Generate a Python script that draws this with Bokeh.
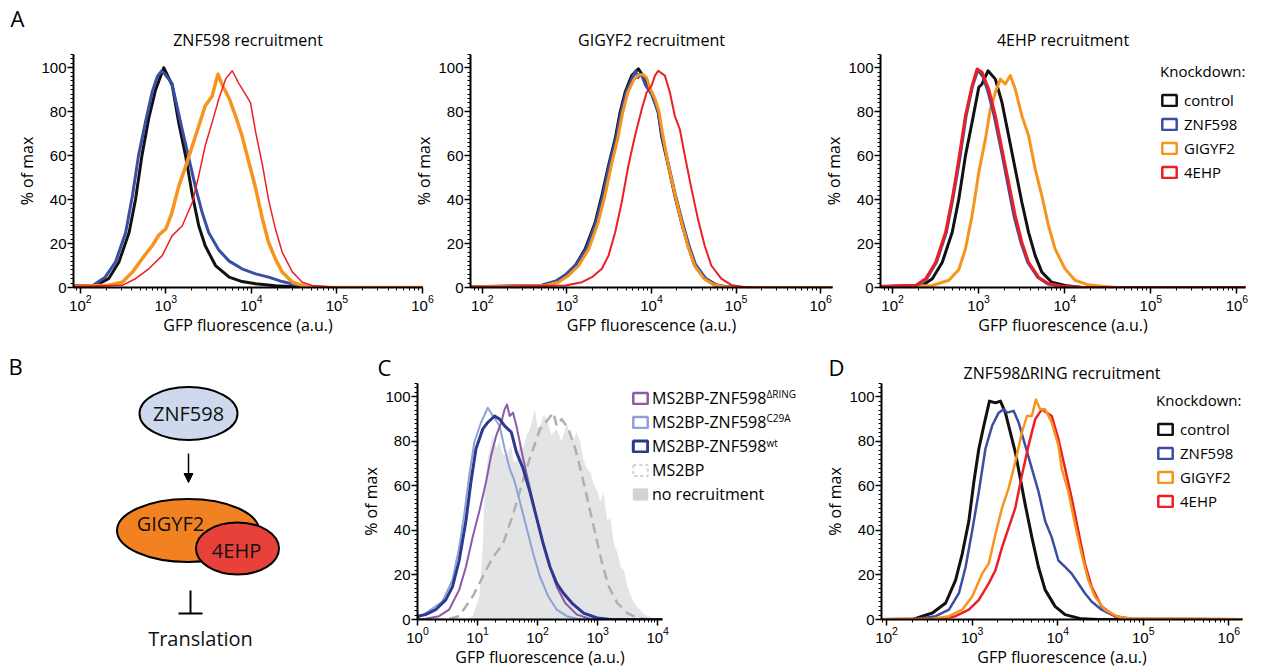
import math
import numpy as np
from bokeh.plotting import figure
from bokeh.models import Range1d, FixedTicker, Legend, LegendItem, Arrow, NormalHead, Title
from bokeh.layouts import row, column
from bokeh.embed import file_html
from bokeh.resources import INLINE
from bokeh.core.properties import value

# ---------------- data (x as log10 of GFP fluorescence, y as % of max) ----------------
KNOCKDOWNS = ["control", "ZNF598", "GIGYF2", "4EHP"]

# A1: ZNF598 recruitment
A1_CTRL_LOGX = [1.5, 2.18, 2.33, 2.45, 2.57, 2.645, 2.72, 2.80, 2.88, 2.975, 3.074, 3.15, 3.23, 3.31, 3.385, 3.46, 3.58, 3.74, 3.89, 4.05, 4.28, 4.5, 4.8, 6.5]
A1_CTRL_PCT = [0, 1, 4, 11.5, 25, 40, 60, 77, 90, 100, 92, 75, 60, 42, 28, 19, 10, 4.7, 2.7, 1.7, 0.8, 0.3, 0, 0]
A1_ZNF_LOGX = [1.5, 2.15, 2.29, 2.41, 2.53, 2.61, 2.68, 2.76, 2.84, 2.90, 2.95, 2.99, 3.07, 3.19, 3.27, 3.35, 3.425, 3.50, 3.62, 3.74, 3.89, 4.05, 4.20, 4.36, 4.52, 4.67, 4.9, 6.5]
A1_ZNF_PCT = [0, 1, 4.7, 11.5, 25, 42, 60, 75, 89, 96, 98.5, 97, 93, 72, 58.5, 45, 34, 25, 17, 12, 8.5, 6.2, 4.7, 2.7, 1.2, 0.4, 0, 0]
A1_GIG_LOGX = [1.5, 2.33, 2.49, 2.61, 2.72, 2.84, 2.92, 3.0, 3.07, 3.15, 3.23, 3.31, 3.385, 3.46, 3.54, 3.58, 3.61, 3.66, 3.74, 3.815, 3.89, 3.97, 4.05, 4.13, 4.20, 4.28, 4.36, 4.48, 4.63, 4.9, 6.5]
A1_GIG_PCT = [0, 1, 2.4, 7, 13, 19, 24, 26.7, 34, 46, 55, 64.5, 73.6, 82.7, 87, 93, 97, 92, 86, 78, 69, 57, 45, 31, 20.6, 13, 7, 2.4, 0.6, 0, 0]
A1_EHP_LOGX = [1.5, 2.49, 2.645, 2.80, 2.957, 3.074, 3.19, 3.31, 3.385, 3.46, 3.54, 3.62, 3.70, 3.776, 3.85, 3.93, 3.99, 4.05, 4.13, 4.20, 4.28, 4.36, 4.48, 4.595, 4.71, 5.0, 6.5]
A1_EHP_PCT = [0, 1, 4, 8.5, 14.5, 23.6, 28, 38.8, 51, 64.5, 75, 86, 95, 98.6, 93, 88, 84, 70.6, 55.5, 40, 26.7, 16, 7, 2.4, 0.9, 0, 0]

# A2: GIGYF2 recruitment
A2_CTRL_LOGX = [1.5, 2.707, 2.864, 2.982, 3.099, 3.217, 3.335, 3.413, 3.492, 3.570, 3.629, 3.688, 3.766, 3.845, 3.923, 4.001, 4.080, 4.119, 4.198, 4.276, 4.354, 4.433, 4.511, 4.629, 4.747, 4.864, 5.1, 6.5]
A2_CTRL_PCT = [0, 0.9, 2.4, 5.5, 10, 17.6, 29.7, 41.8, 55.5, 67.6, 79.7, 88.8, 96.4, 99.5, 94.9, 88.8, 79.7, 69, 55.5, 41.8, 29.7, 19, 10, 4, 1.2, 0.3, 0, 0]
A2_ZNF_LOGX = [1.5, 2.70, 2.87, 2.99, 3.11, 3.23, 3.345, 3.425, 3.50, 3.58, 3.64, 3.70, 3.77, 3.81, 3.84, 3.86, 3.89, 3.93, 4.00, 4.08, 4.12, 4.20, 4.28, 4.36, 4.44, 4.52, 4.64, 4.76, 4.88, 5.1, 6.5]
A2_ZNF_PCT = [0, 1, 3, 6, 10.5, 17.6, 29.7, 41.8, 55.5, 67.6, 79.7, 88.8, 95, 98.5, 95.5, 97, 96, 92, 88, 79.7, 70, 56, 42.5, 30.5, 19.5, 10.5, 4.2, 1.3, 0.3, 0, 0]
A2_GIG_LOGX = [1.5, 2.75, 2.90, 3.02, 3.14, 3.26, 3.37, 3.45, 3.525, 3.60, 3.66, 3.72, 3.79, 3.85, 3.90, 3.94, 3.99, 4.04, 4.09, 4.13, 4.20, 4.28, 4.355, 4.43, 4.51, 4.62, 4.74, 4.86, 5.1, 6.5]
A2_GIG_PCT = [0, 0.9, 2.4, 5.5, 10, 17.6, 29.7, 41.8, 55.5, 67.6, 79.7, 88.8, 94.5, 96.8, 96.8, 95.5, 90, 86, 80, 70, 55.5, 41.8, 29.7, 19, 10, 4, 1.2, 0.3, 0, 0]
A2_EHP_LOGX = [1.5, 2.982, 3.178, 3.296, 3.413, 3.492, 3.570, 3.648, 3.727, 3.805, 3.884, 3.943, 4.001, 4.041, 4.080, 4.158, 4.217, 4.276, 4.335, 4.394, 4.472, 4.550, 4.629, 4.707, 4.825, 4.943, 5.060, 5.3, 6.5]
A2_EHP_PCT = [0, 0.9, 2.4, 4.7, 8.5, 14.5, 25, 38.8, 55.5, 69, 81, 88.8, 91.8, 96.4, 98.6, 96.4, 88.8, 78, 72, 60, 45, 31, 19, 10, 4, 1.2, 0.3, 0, 0]

# A3: 4EHP recruitment
A3_CTRL_LOGX = [1.5, 2.346, 2.462, 2.578, 2.693, 2.770, 2.847, 2.924, 3.002, 3.040, 3.109, 3.194, 3.271, 3.348, 3.425, 3.502, 3.580, 3.657, 3.734, 3.849, 4.003, 4.2, 6.5]
A3_CTRL_PCT = [0, 0.9, 4.0, 11.5, 25.1, 40.3, 60, 75.2, 91.1, 92.6, 98.6, 94.8, 84.2, 69.1, 53.9, 38.8, 25.1, 14.5, 7, 2.4, 0.9, 0, 0]
A3_ZNF_LOGX = [1.5, 2.28, 2.395, 2.51, 2.625, 2.70, 2.78, 2.855, 2.93, 2.99, 3.05, 3.11, 3.18, 3.26, 3.335, 3.41, 3.49, 3.57, 3.685, 3.80, 3.955, 4.2, 6.5]
A3_ZNF_PCT = [0, 0.9, 4.0, 11.5, 25.1, 40.3, 58.5, 78.2, 91.8, 98.9, 96, 89, 78.2, 63, 47.9, 32.7, 20.6, 11.5, 4.7, 1.7, 0.6, 0, 0]
A3_GIG_LOGX = [1.5, 2.462, 2.655, 2.770, 2.847, 2.924, 3.002, 3.079, 3.136, 3.194, 3.252, 3.310, 3.368, 3.425, 3.502, 3.580, 3.657, 3.734, 3.811, 3.888, 4.003, 4.119, 4.273, 4.427, 4.6, 6.5]
A3_GIG_PCT = [0, 0.9, 3.3, 8.2, 17.6, 32.7, 52.4, 67.6, 81.2, 88.8, 94.8, 92.6, 96.4, 90.3, 78.2, 69.1, 53.9, 41.8, 28.2, 17.6, 8.5, 3.3, 1.2, 0.6, 0, 0]
A3_EHP_LOGX = [1.5, 2.269, 2.385, 2.501, 2.616, 2.693, 2.770, 2.847, 2.924, 2.982, 3.040, 3.117, 3.194, 3.271, 3.348, 3.425, 3.502, 3.580, 3.695, 3.811, 3.965, 4.2, 6.5]
A3_EHP_PCT = [0, 0.9, 4.0, 11.5, 25.1, 40.3, 58.5, 78.2, 91.8, 99.4, 97.9, 90.3, 78.2, 63.0, 47.9, 32.7, 20.6, 11.5, 4.7, 1.7, 0.6, 0, 0]

# C: MS2BP fusions
C_NOREC_LOGX = [0, 0.806, 0.918, 1.030, 1.086, 1.114, 1.170, 1.255, 1.31, 1.367, 1.42, 1.479, 1.56, 1.60, 1.647, 1.70, 1.759, 1.82, 1.871, 1.955, 2.0, 2.039, 2.10, 2.151, 2.23, 2.319, 2.40, 2.487, 2.54, 2.599, 2.65, 2.711, 2.76, 2.823, 2.88, 2.935, 2.99, 3.047, 3.10, 3.159, 3.21, 3.271, 3.33, 3.383, 3.44, 3.495, 3.607, 3.776, 3.944, 4.08]
C_NOREC_PCT = [0, 0, 1.5, 10.3, 32.4, 54.6, 72.3, 82.6, 77, 79.6, 74, 73.7, 78, 71, 70.8, 80, 76.7, 83, 85.5, 94.4, 86, 87, 92, 90, 83, 85.5, 80, 88.5, 82, 81.1, 84, 79.6, 72, 67.8, 66, 60.5, 58, 53.1, 57, 44.2, 46, 33.9, 30, 23.6, 22, 14.7, 7.4, 2.2, 0.3, 0]
C_MS2BP_LOGX = [0, 0.470, 0.694, 0.918, 1.086, 1.255, 1.423, 1.591, 1.703, 1.815, 1.927, 2.039, 2.179, 2.263, 2.319, 2.403, 2.515, 2.627, 2.739, 2.851, 2.963, 3.075, 3.187, 3.327, 3.495, 3.664, 3.888, 4.08]
C_MS2BP_PCT = [0, 0, 1.5, 10.3, 19.2, 28.0, 33.9, 47.2, 57.5, 67.8, 76.7, 85.5, 90, 92.9, 87, 90, 85.5, 76.7, 64.9, 51.6, 38.3, 25.1, 14.7, 7.4, 2.9, 0.7, 0, 0]
C_WT_LOGX = [0, 0.134, 0.302, 0.470, 0.582, 0.694, 0.806, 0.890, 0.974, 1.086, 1.170, 1.283, 1.367, 1.451, 1.563, 1.647, 1.759, 1.871, 1.983, 2.095, 2.207, 2.319, 2.431, 2.571, 2.767, 2.991, 3.215, 4.08]
C_WT_PCT = [1.5, 2.2, 4.4, 8.8, 14.7, 26.5, 44.2, 61.9, 76.7, 85.5, 88.5, 91.4, 90, 87, 84.1, 75.2, 67.8, 57.5, 45.7, 33.9, 23.6, 16.2, 11.8, 7.4, 2.9, 0.7, 0, 0]
C_C29A_LOGX = [0, 0.190, 0.414, 0.582, 0.694, 0.778, 0.862, 0.946, 1.058, 1.170, 1.255, 1.367, 1.451, 1.535, 1.619, 1.703, 1.815, 1.927, 2.039, 2.179, 2.319, 2.487, 2.655, 4.08]
C_C29A_PCT = [0.7, 3.8, 8.1, 17.7, 32.4, 47.2, 64.9, 79.6, 88.5, 95.1, 91.4, 87, 76.7, 67.8, 61.9, 53.1, 41.3, 29.5, 19.2, 10.3, 4.4, 1.5, 0.3, 0]
C_DRING_LOGX = [0, 0.134, 0.358, 0.526, 0.694, 0.806, 0.918, 1.030, 1.142, 1.227, 1.311, 1.395, 1.451, 1.490, 1.535, 1.591, 1.647, 1.759, 1.871, 1.983, 2.095, 2.207, 2.319, 2.459, 2.655, 2.879, 4.08]
C_DRING_PCT = [0, 0.3, 1.5, 4.4, 13.3, 23.6, 36.9, 48.7, 61.9, 73.7, 82.6, 88.5, 94.4, 96.6, 91.4, 92.9, 87, 72.3, 59, 45.7, 33.9, 23.6, 14.7, 7.4, 2.2, 0.3, 0]
C_LABELS = ["MS2BP-ZNF598", "MS2BP-ZNF598", "MS2BP-ZNF598", "MS2BP", "no recruitment"]
C_SUPERSCRIPTS = ["\u0394RING", "C29A", "wt"]

# D: ZNF598ΔRING recruitment
D_CTRL_LOGX = [1.5, 2.303, 2.535, 2.690, 2.806, 2.884, 2.961, 3.020, 3.078, 3.136, 3.202, 3.272, 3.330, 3.388, 3.446, 3.504, 3.562, 3.620, 3.698, 3.775, 3.853, 3.969, 4.086, 4.279, 4.473, 6.5]
D_CTRL_PCT = [0, 0, 2.9, 7.4, 17.7, 29.5, 44.2, 61.9, 76.7, 87, 98.1, 97.3, 98.1, 92.9, 84.1, 75.2, 63.4, 51.6, 36.9, 23.6, 13.3, 5.9, 2.2, 0.3, 0, 0]
D_ZNF_LOGX = [1.5, 2.380, 2.574, 2.729, 2.845, 2.923, 3.000, 3.078, 3.155, 3.233, 3.310, 3.368, 3.407, 3.485, 3.543, 3.620, 3.698, 3.775, 3.853, 3.930, 4.008, 4.086, 4.163, 4.241, 4.318, 4.396, 4.512, 4.667, 4.861, 6.5]
D_ZNF_PCT = [0, 0.3, 1.5, 4.4, 11.8, 23.6, 39.8, 57.5, 76.7, 87, 92.9, 94.4, 92.9, 93.7, 88.5, 78.2, 67.8, 57.5, 44.2, 36.9, 26.5, 23.6, 20.6, 16.2, 11.8, 8.1, 4.4, 1.5, 0.3, 0]
D_GIG_LOGX = [1.5, 2.535, 2.729, 2.884, 3.000, 3.117, 3.194, 3.272, 3.349, 3.427, 3.504, 3.582, 3.640, 3.698, 3.744, 3.795, 3.853, 3.930, 4.008, 4.047, 4.124, 4.202, 4.279, 4.357, 4.434, 4.551, 4.706, 4.861, 6.5]
D_GIG_PCT = [0, 0.3, 1.5, 4.4, 10.3, 20.6, 25.1, 38.3, 50.1, 59, 70.8, 84.1, 91.4, 91.4, 98.8, 94.4, 94.4, 88.5, 78.2, 67.8, 57.5, 42.8, 29.5, 17.7, 10.3, 4.4, 1.2, 0.3, 0]
D_EHP_LOGX = [1.5, 2.613, 2.806, 2.961, 3.078, 3.194, 3.272, 3.349, 3.427, 3.504, 3.582, 3.659, 3.737, 3.814, 3.872, 3.930, 4.008, 4.086, 4.163, 4.241, 4.318, 4.396, 4.512, 4.667, 4.822, 6.5]
D_EHP_PCT = [0, 0.3, 1.5, 4.4, 8.8, 16.2, 22.1, 32.4, 41.3, 50.1, 64.9, 78.2, 90, 94.4, 92.9, 91.4, 81.1, 67.8, 54.6, 39.8, 25.1, 14.7, 5.9, 1.5, 0.3, 0]

Y_TICKS = [0, 20, 40, 60, 80, 100]
X_LABEL = "GFP fluorescence (a.u.)"
Y_LABEL = "% of max"

# ---------------- style ----------------
FONT = "Open Sans"
TICK_FONT = "Liberation Sans"
BLACK, BLUE, ORANGE, RED = "#111111", "#3a4ea3", "#f7941d", "#ed1f24"
PURPLE, LIGHTBLUE, DARKBLUE = "#8b5ba8", "#8ea2d5", "#2d3990"
DASHGRAY, FILLGRAY, BOXGRAY = "#aeb0b3", "#e3e4e5", "#d1d2d4"
NAN = float("nan")


def clear(p):
    p.border_fill_color = None
    p.background_fill_color = None
    p.outline_line_color = None


def hist_fig(width, height, left, right, top, bottom, xlo, xhi, styles=None):
    kw = dict(width=width, height=height, x_axis_type="log",
              x_range=Range1d(10 ** xlo, 10 ** xhi), y_range=Range1d(0, 106),
              toolbar_location=None, output_backend="svg",
              min_border_left=left, min_border_right=right,
              min_border_top=top, min_border_bottom=bottom,
              x_axis_label=X_LABEL, y_axis_label=Y_LABEL)
    if styles:
        kw["styles"] = styles
    p = figure(**kw)
    p.frame_align = False
    clear(p)
    p.xgrid.visible = False
    p.ygrid.visible = False
    p.yaxis.ticker = FixedTicker(ticks=Y_TICKS, minor_ticks=list(range(0, 107, 2)))
    for ax in p.axis:
        ax.axis_line_width = 2
        ax.axis_line_color = "black"
        ax.major_tick_line_width = 1.5
        ax.major_tick_line_color = "black"
        ax.major_tick_out = 6
        ax.major_tick_in = 0
        ax.minor_tick_line_width = 1
        ax.minor_tick_line_color = "black"
        ax.minor_tick_out = 3
        ax.minor_tick_in = 0
        ax.major_label_text_font = TICK_FONT
        ax.major_label_text_font_size = "15px"
        ax.major_label_text_color = "black"
        ax.major_label_standoff = 1
        ax.axis_label_text_font = FONT
        ax.axis_label_text_font_size = "16px"
        ax.axis_label_text_font_style = "normal"
        ax.axis_label_text_color = "black"
        ax.axis_label_standoff = 0
    return p


def add_title(p, text, offset, standoff):
    p.add_layout(Title(text=text, text_font=FONT, text_font_size="16px",
                       text_font_style="normal", align="center", offset=offset,
                       standoff=standoff, text_color="black"), "above")


def line(p, logx, pct, color, width, dash="solid"):
    p.line(x=np.power(10.0, np.array(logx)), y=pct, line_color=color,
           line_width=width, line_join="round", line_dash=dash)


def key_box(p, **style):
    # a box glyph that exists only to supply the legend swatch (no visible data)
    return p.quad(left=[NAN], right=[NAN], top=[NAN], bottom=[NAN], **style)


def style_legend(leg, size, spacing, standoff):
    leg.title_text_font = FONT
    leg.title_text_font_size = size
    leg.title_text_font_style = "normal"
    leg.title_text_color = "black"
    leg.title_standoff = 9
    leg.label_text_font = FONT
    leg.label_text_font_size = size
    leg.label_text_color = "black"
    leg.glyph_width = 18
    leg.glyph_height = 14
    leg.label_height = 16
    leg.label_standoff = standoff
    leg.spacing = spacing
    leg.padding = 0
    leg.margin = 0
    leg.border_line_color = None
    leg.background_fill_alpha = 0


def knockdown_legend(p, x, y):
    items = []
    for name, col in zip(KNOCKDOWNS, [BLACK, BLUE, ORANGE, RED]):
        r = key_box(p, fill_color=None, line_color=col, line_width=2.5)
        items.append(LegendItem(label=name, renderers=[r]))
    leg = Legend(items=items, location=(x, y), title="Knockdown:")
    style_legend(leg, "15px", 4, 6)
    p.add_layout(leg)


# ---------------- top row ----------------
a1 = hist_fig(436, 340, 73, 14, 54, 53, 1.92, 6.0)
line(a1, A1_CTRL_LOGX, A1_CTRL_PCT, BLACK, 3)
line(a1, A1_ZNF_LOGX, A1_ZNF_PCT, BLUE, 3)
line(a1, A1_GIG_LOGX, A1_GIG_PCT, ORANGE, 3.5)
line(a1, A1_EHP_LOGX, A1_EHP_PCT, RED, 1.5)
add_title(a1, "ZNF598 recruitment", -14, 7)

a2 = hist_fig(435, 340, 58, 13, 54, 53, 1.86, 6.14, styles={"margin-left": "-26px"})
line(a2, A2_CTRL_LOGX, A2_CTRL_PCT, BLACK, 3)
line(a2, A2_ZNF_LOGX, A2_ZNF_PCT, BLUE, 3)
line(a2, A2_GIG_LOGX, A2_GIG_PCT, ORANGE, 3)
line(a2, A2_EHP_LOGX, A2_EHP_PCT, RED, 2)
add_title(a2, "GIGYF2 recruitment", -1, 7)

a3 = hist_fig(437, 340, 58, 12, 54, 53, 1.86, 6.10, styles={"margin-left": "-25px"})
line(a3, A3_CTRL_LOGX, A3_CTRL_PCT, BLACK, 3)
line(a3, A3_GIG_LOGX, A3_GIG_PCT, ORANGE, 3)
line(a3, A3_ZNF_LOGX, A3_ZNF_PCT, BLUE, 3)
line(a3, A3_EHP_LOGX, A3_EHP_PCT, RED, 3)
add_title(a3, "4EHP recruitment", -12, 7)
knockdown_legend(a3, 280, 105)

# ---------------- panel B: diagram (page pixel coordinates) ----------------
b = figure(width=352, height=342, x_range=Range1d(0, 352), y_range=Range1d(670, 328),
           toolbar_location=None, output_backend="svg", min_border=0,
           x_axis_location=None, y_axis_location=None)
b.frame_align = False
clear(b)
b.grid.visible = False
b.ellipse(x=[188], y=[413], width=[98], height=[53], fill_color="#cfd9ee",
          line_color="black", line_width=2)
b.ellipse(x=[187.5], y=[530], width=[142], height=[63], fill_color="#f28121",
          line_color="black", line_width=2)
b.ellipse(x=[237], y=[548], width=[83], height=[52], fill_color="#e8413a",
          line_color="black", line_width=2)
b.text(x=[188, 170, 236, 200], y=[413, 523, 550, 638],
       text=["ZNF598", "GIGYF2", "4EHP", "Translation"],
       text_font=value(FONT), text_font_size="20px", text_align="center",
       text_baseline="middle", text_color="#111111")
b.add_layout(Arrow(x_start=188, y_start=453, x_end=188, y_end=482, line_width=1.5,
                   end=NormalHead(size=9, fill_color="black", line_color="black")))
b.segment(x0=[190, 178], y0=[590, 613], x1=[190, 202], y1=[613, 613],
          line_color="black", line_width=2)

# ---------------- panel C ----------------
c = hist_fig(469, 342, 65, 159, 55, 48, 0.0, 4.08)
c.varea(x=np.power(10.0, np.array(C_NOREC_LOGX)), y1=0, y2=C_NOREC_PCT,
        fill_color=FILLGRAY)
line(c, C_MS2BP_LOGX, C_MS2BP_PCT, DASHGRAY, 2.5, dash="10 6")
line(c, C_C29A_LOGX, C_C29A_PCT, LIGHTBLUE, 2)
line(c, C_DRING_LOGX, C_DRING_PCT, PURPLE, 2)
line(c, C_WT_LOGX, C_WT_PCT, DARKBLUE, 3)

# ---------------- panel D ----------------
d = hist_fig(436, 342, 58, 15, 55, 48, 1.94, 6.16)
line(d, D_CTRL_LOGX, D_CTRL_PCT, BLACK, 3)
line(d, D_ZNF_LOGX, D_ZNF_PCT, BLUE, 2.5)
line(d, D_EHP_LOGX, D_EHP_PCT, RED, 2.5)
line(d, D_GIG_LOGX, D_GIG_PCT, ORANGE, 2.5)
add_title(d, "ZNF598\u0394RING recruitment", -18, 0)
knockdown_legend(d, 275, 108)

# ---------------- overlay: panel letters and panel C legend (page pixel coordinates) ----
ov = figure(width=1260, height=670, x_range=Range1d(0, 1260), y_range=Range1d(670, 0),
            toolbar_location=None, output_backend="svg", min_border=0,
            x_axis_location=None, y_axis_location=None,
            styles={"margin-top": "-670px"})
ov.frame_align = False
clear(ov)
ov.grid.visible = False
ov.text(x=[10, 8, 377, 828], y=[17, 365, 366, 366], text=["A", "B", "C", "D"],
        text_font=value(FONT), text_font_size="22px", text_align="left",
        text_baseline="middle", text_color="black")
c_styles = [dict(fill_color=None, line_color=PURPLE, line_width=2.5),
            dict(fill_color=None, line_color=LIGHTBLUE, line_width=2.5),
            dict(fill_color=None, line_color=DARKBLUE, line_width=3),
            dict(fill_color=None, line_color=BOXGRAY, line_width=2, line_dash="3 3"),
            dict(fill_color=BOXGRAY, line_color=BOXGRAY, line_width=1)]
c_items = []
for name, st in zip(C_LABELS, c_styles):
    c_items.append(LegendItem(label=name, renderers=[key_box(ov, **st)]))
c_leg = Legend(items=c_items, location=(631, 165))
style_legend(c_leg, "16px", 2, 3)
ov.add_layout(c_leg)
ov.text(x=[766, 766, 766], y=[393, 417, 442], text=C_SUPERSCRIPTS,
        text_font=value(FONT), text_font_size="10px", text_align="left",
        text_baseline="middle", text_color="black")

layout = column(row(a1, a2, a3),
                row(b, c, d, styles={"margin-top": "-12px"}),
                ov)
open("out.html", "w").write(file_html(layout, INLINE))
